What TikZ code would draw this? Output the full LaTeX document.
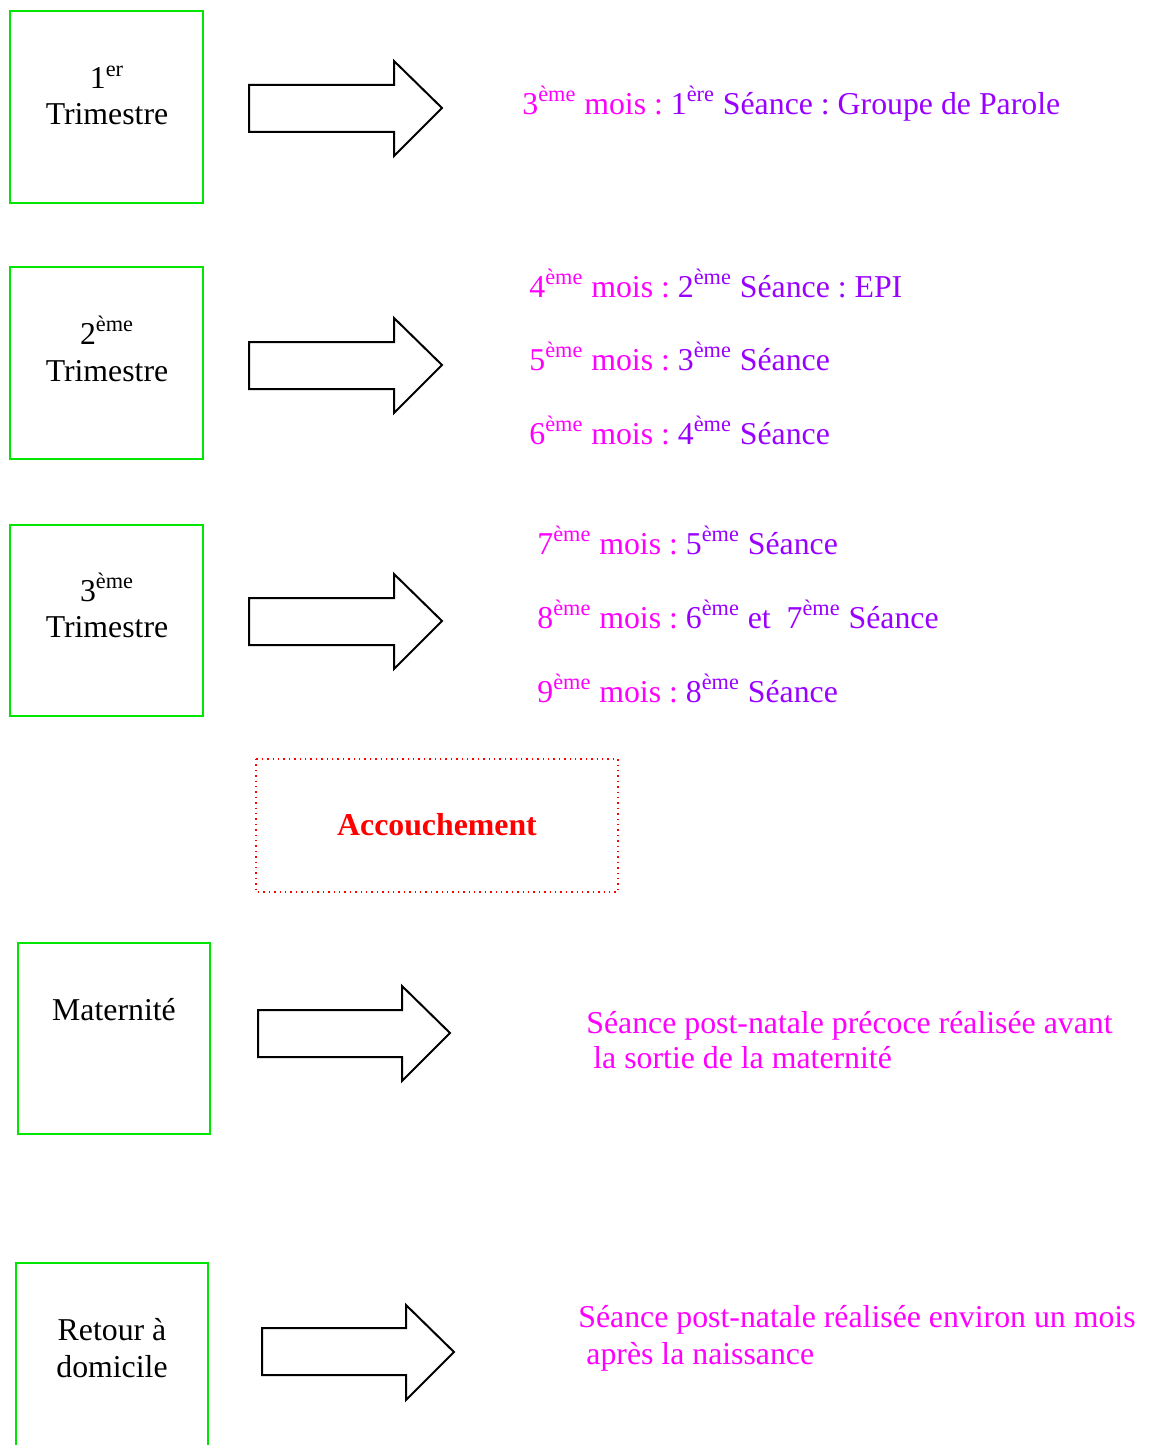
\documentclass[tikz,border=0pt]{standalone}
\usepackage{fontspec}
\setmainfont{Liberation Serif}
\usepackage{tikz}
\usepackage{xcolor}
\definecolor{rose}{RGB}{255,0,255}
\definecolor{mauve}{RGB}{153,0,255}
\definecolor{vert}{RGB}{0,230,0}
\frenchspacing

\begin{document}
\begin{tikzpicture}[x=0.5pt, y=-0.5pt,
    boite/.style={draw=vert, line width=0.8pt},
    fleche/.style={draw=black, line width=1pt, line join=miter},
    gauche/.style={anchor=base west, inner sep=0pt, font=\fontsize{15.9}{18}\selectfont},
    centre/.style={anchor=base, inner sep=0pt, font=\fontsize{15.9}{18}\selectfont}]
    % fond
    \useasboundingbox (0,0) rectangle (1152,1445);
    %trimestres
    \draw[boite] (10,11) rectangle (203,203);
    \draw[boite] (10,267) rectangle (203,459);
    \draw[boite] (10,525) rectangle (203,716);
    \node[centre] (t1a) at (107,89) {1\textsuperscript{er}};
    \node[centre] (t1b) at (107,125) {Trimestre};
    \node[centre] (t2a) at (107,344) {2\textsuperscript{ème}};
    \node[centre] (t2b) at (107,381) {Trimestre};
    \node[centre] (t3a) at (107,601) {3\textsuperscript{ème}};
    \node[centre] (t3b) at (107,637) {Trimestre};
    %flèches
    \draw[fleche] (249,85) -- (394,85) -- (394,61) -- (442,108) -- (394,156) -- (394,132) -- (249,132) -- cycle;
    \draw[fleche] (249,342) -- (394,342) -- (394,318) -- (442,365) -- (394,413) -- (394,389) -- (249,389) -- cycle;
    \draw[fleche] (249,598) -- (394,598) -- (394,574) -- (442,621) -- (394,669) -- (394,645) -- (249,645) -- cycle;
    \draw[fleche] (258,1010) -- (402,1010) -- (402,986) -- (450,1033) -- (402,1081) -- (402,1057) -- (258,1057) -- cycle;
    \draw[fleche] (262,1328) -- (406,1328) -- (406,1305) -- (454,1352) -- (406,1400) -- (406,1375) -- (262,1375) -- cycle;
    %séances
    \node[gauche] (s1) at (522,114) {\textcolor{rose}{3\textsuperscript{ème} mois : }\textcolor{mauve}{1\textsuperscript{ère} Séance : Groupe de Parole}};
    \node[gauche] (s2) at (529,297) {\textcolor{rose}{4\textsuperscript{ème} mois : }\textcolor{mauve}{2\textsuperscript{ème} Séance : EPI}};
    \node[gauche] (s3) at (529,370) {\textcolor{rose}{5\textsuperscript{ème} mois : }\textcolor{mauve}{3\textsuperscript{ème} Séance}};
    \node[gauche] (s4) at (529,444) {\textcolor{rose}{6\textsuperscript{ème} mois : }\textcolor{mauve}{4\textsuperscript{ème} Séance}};
    \node[gauche] (s5) at (537,554) {\textcolor{rose}{7\textsuperscript{ème} mois : }\textcolor{mauve}{5\textsuperscript{ème} Séance}};
    \node[gauche] (s6) at (537,628) {\textcolor{rose}{8\textsuperscript{ème} mois : }\textcolor{mauve}{6\textsuperscript{ème} et \ 7\textsuperscript{ème} Séance}};
    \node[gauche] (s7) at (537,702) {\textcolor{rose}{9\textsuperscript{ème} mois : }\textcolor{mauve}{8\textsuperscript{ème} Séance}};
    %accouchement
    \draw[red, dotted, line width=0.7pt] (256,759) rectangle (618,892);
    \node[centre, font=\fontsize{15.9}{18}\selectfont\bfseries, red] (acc) at (437,835) {Accouchement};
    %maternité
    \draw[boite] (18,943) rectangle (210,1134);
    \node[centre] (mat) at (114,1020) {Maternité};
    \node[gauche, rose] (p1) at (586,1033) {Séance post-natale précoce réalisée avant};
    \node[gauche, rose] (p2) at (593,1068) {la sortie de la maternité};
    %retour
    \draw[boite] (16,1450) -- (16,1263) -- (208,1263) -- (208,1450);
    \node[centre] (ret) at (112,1340) {Retour à};
    \node[centre] (dom) at (112,1377) {domicile};
    \node[gauche, rose] (p3) at (578,1327) {Séance post-natale réalisée environ un mois};
    \node[gauche, rose] (p4) at (586,1364) {après la naissance};
\end{tikzpicture}
\end{document}
